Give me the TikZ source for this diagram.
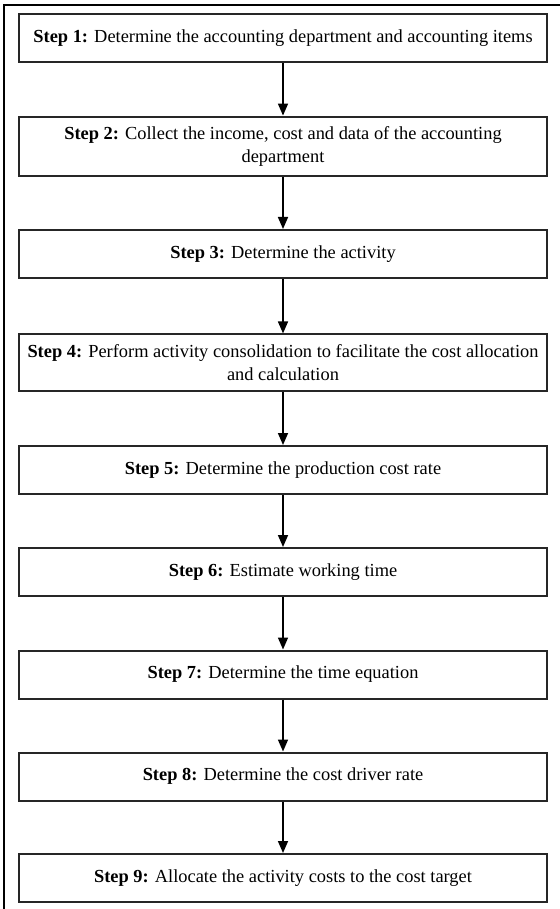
\documentclass[tikz,border=0pt]{standalone}
\usepackage{fontspec}
\setmainfont{Liberation Serif}
\usetikzlibrary{arrows.meta}

\tikzset{
	stepbox/.style={draw=black!85, line width=1pt, rectangle, align=center,
		minimum width=264pt, inner xsep=1pt, minimum height=24pt, inner ysep=5pt,
		font=\fontsize{9.2pt}{11.5pt}\selectfont},
	flowarrow/.style={draw=black, line width=0.8pt,
		-{Triangle[length=6pt,width=5pt]}},
	frameline/.style={draw=black, line width=1.3pt}
}

\begin{document}
\begin{tikzpicture}[x=0.5pt,y=-0.5pt]
\useasboundingbox (0,0) rectangle (560,909);

% outer frame (cut at right and bottom)
\draw[frameline] (4,909) |- (560,5);

% steps
\node[stepbox] (s1) at (283,38.5) {\textbf{Step 1:} Determine the accounting department and accounting items};
\node[stepbox] (s2) at (283,146.5) {\textbf{Step 2:} Collect the income, cost and data of the accounting\\department};
\node[stepbox] (s3) at (283,254) {\textbf{Step 3:} Determine the activity};
\node[stepbox] (s4) at (283,362.5) {\textbf{Step 4:} Perform activity consolidation to facilitate the cost allocation\\and calculation};
\node[stepbox] (s5) at (283,470) {\textbf{Step 5:} Determine the production cost rate};
\node[stepbox] (s6) at (283,572) {\textbf{Step 6:} Estimate working time};
\node[stepbox] (s7) at (283,674.5) {\textbf{Step 7:} Determine the time equation};
\node[stepbox] (s8) at (283,776.5) {\textbf{Step 8:} Determine the cost driver rate};
\node[stepbox] (s9) at (283,878) {\textbf{Step 9:} Allocate the activity costs to the cost target};

% arrows
\foreach \i/\j in {1/2,2/3,3/4,4/5,5/6,6/7,7/8,8/9}
	\draw[flowarrow] (s\i.south) -- (s\j.north);

\end{tikzpicture}
\end{document}
